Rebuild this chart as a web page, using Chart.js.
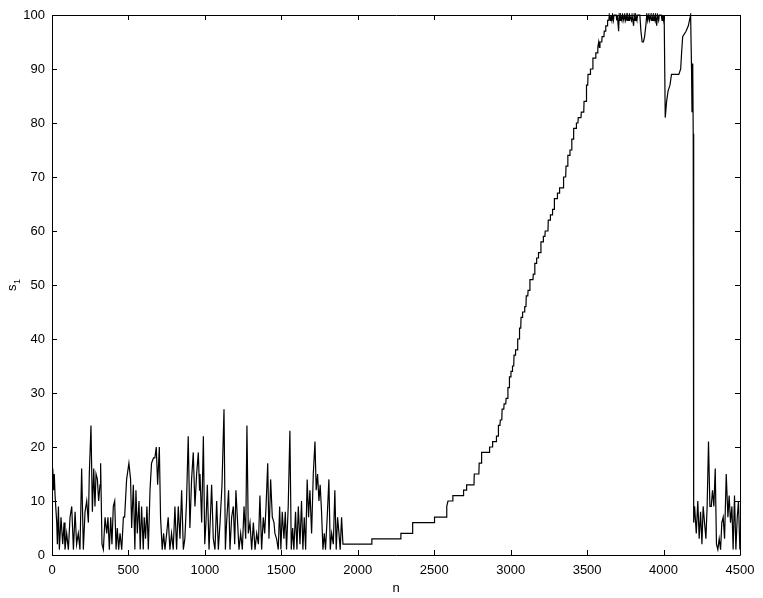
<!DOCTYPE html>
<html>
<head>
<meta charset="utf-8">
<script src="https://cdn.jsdelivr.net/npm/chart.js@4.4.1/dist/chart.umd.min.js"></script>
<style>
  body { margin: 0; background: #fff; }
  canvas { display: block; }
</style>
</head>
<body>
<canvas id="chart" width="763" height="598"></canvas>
<script>
// valeurs (n, s1)
const noise1N = [0,5,10,15,20,31,35,42,48,59,
  70,79,85,96,107,118,129,140,151,161,
  172,183,194,205,216,227,238,244,255,264,
  273,281,288,297,305,314,318,327,336,347,
  358,366,375,384,392,401,410,419,427,436,
  445,456,467,475];
const noise1S = [14,16,12,15,11,6,2,9,1,7,
  2,6,1,4,1,7,9,1,8,2,
  4,1,16,1,8,10,6,15,24,8,
  16,9,15,14,10,13,17,2,1,7,
  4,7,1,7,2,9,10,1,5,1,
  4,1,7,7];

const noise2N = [488,503,514,521,532,542,549,558,569,577,
  586,597,603,612,621,630,641,651,664,673,
  682,691,702,710,721,730,739,750,760,771,
  782,793,804,815,826,837,848,859,869,880,
  891,902,913,924,935,946,957,965];
const noise2S = [14,17,14,5,13,1,12,4,10,1,
  9,1,7,3,9,1,12,17,18,18,
  20,13,20,7,1,4,1,4,7,1,
  4,1,9,1,9,3,12,1,3,10,
  22,5,14,19,9,15,19,12];

const noise3N = [968,979,990,999,1007,1016,1027,1036,1044,1055,
  1066,1077,1088,1099,1112,1125,1134,1142,1155,1164,
  1175,1186,1195,1203,1214,1223,1234,1245,1256,1267,
  1275,1284,1295,1306,1317,1328,1339,1350,1360,1371,
  1382,1391,1400,1411,1419,1430,1441,1452];
const noise3S = [15,6,22,2,6,13,1,7,13,3,
  1,10,1,6,13,27,1,6,12,1,
  7,9,2,12,6,1,4,1,9,3,
  24,4,6,1,6,1,4,2,11,1,
  7,4,9,17,3,14,7,6];

const noise4N = [1458,1469,1480,1489,1497,1506,1517,1526,1534,1545,
  1556,1565,1574,1582,1593,1602,1611,1622,1632,1641,
  1650,1659,1669,1678,1687,1698,1709,1720,1728,1737,
  1746,1754,1763,1772,1781,1789,1800,1811,1820,1829,
  1840,1850,1859,1868,1877,1885,1894,1903];
const noise4S = [4,3,1,9,1,8,3,8,1,9,
  23,1,5,1,8,1,9,2,10,1,
  7,1,14,7,12,4,15,21,12,15,
  10,13,8,1,4,1,7,14,1,4,
  2,12,1,7,4,1,7,2];

// montée en escalier
const rampN = [1905,2090,2092,2280,2282,2356,2358,2360,2500,2502,
  2580,2582,2590,2620,2622,2690,2692,2710,2712,2760,
  2762,2792,2794,2808,2810,2860,2862,2880,2882,2905,
  2907,2918,2920,2930,2932,2942,2944,2955,2957,2968,
  2970,2980,2982,2990,2992,3000,3002,3010,3012,3020,
  3022,3030,3032,3044,3046,3056,3058,3066,3068,3076,
  3078,3090,3092,3100,3102,3112,3114,3124,3126,3146,
  3148,3156,3158,3168,3170,3180,3182,3196,3198,3212,
  3214,3224,3226,3244,3246,3258,3260,3272,3274,3284,
  3286,3304,3306,3318,3320,3344,3346,3360,3362,3372,
  3374,3386,3388,3398,3400,3410,3412,3428,3430,3440,
  3442,3460,3462,3478,3480,3494,3496,3504,3506,3520,
  3522,3536,3538,3555,3557,3568,3570,3576,3580,3584,
  3596,3598,3610,3612,3620,3622,3632,3634,3642];
const rampS = [2,2,3,3,4,4,5,6,6,7,
  7,9,10,10,11,11,12,12,13,13,
  15,15,17,17,19,19,20,20,21,21,
  22,22,24,24,25,25,27,27,28,28,
  29,29,31,31,33,33,34,34,35,35,
  37,37,38,38,40,40,42,42,44,44,
  45,45,46,46,48,48,49,49,51,51,
  52,52,54,54,55,55,56,56,58,58,
  59,59,60,60,62,62,63,63,64,64,
  66,66,67,67,68,68,70,70,72,72,
  74,74,75,75,77,77,79,79,80,80,
  81,81,82,82,84,84,87,87,89,89,
  90,90,92,92,93,93,94,95,94,95,
  95,96,96,97,97,98,98,99,99];

// plateau vers 100
const topN = [3645,3652,3656,3662,3666,3672,3676,3690,3694,3698,
  3706,3710,3716,3720,3728,3732,3740,3744,3752,3756,
  3762,3766,3774,3778,3790,3794,3804,3808,3814,3818,
  3826,3830,3845,3852,3860,3868,3876,3884,3890,3896,
  3900,3908,3912,3920,3924,3932,3936,3944,3948,3955,
  3960,3968,3972,3985,3990,3994,4000,4004,4008,4011,
  4020,4030,4042,4052,4064,4085,4100,4112,4118,4125,
  4147,4162,4177];
const topS = [100,99,100,99,100,99,100,100,99,100,
  97,100,99,100,99,100,99,100,99,100,
  99,100,99,100,99,100,98,100,99,100,
  99,100,100,97,95,95,96,98,100,99,
  100,99,100,99,100,99,100,99,100,98,
  100,99,100,100,99,100,99,100,100,81,
  84,86,87,89,89,89,89,90,93,96,
  97,98,100];

// chute et fin
const tailN = [4183,4186,4188,4190,4192,4194,4196,4198,4203,4214,
  4224,4233,4242,4251,4259,4268,4277,4285,4294,4303,
  4312,4320,4329,4338,4346,4355,4364,4373,4381,4390,
  4399,4410,4421,4429,4438,4447,4455,4464,4473,4482,
  4490,4499];
const tailS = [90,82,91,83,90,78,15,6,9,4,
  10,3,8,2,9,6,3,9,21,9,
  9,12,9,16,2,1,3,1,6,7,
  3,15,7,11,6,9,1,11,1,7,
  10,1];

const xTicks = [0,500,1000,1500,2000,2500,3000,3500,4000,4500];
const yTicks = [0,10,20,30,40,50,60,70,80,90,100];

const FONT = 'Liberation Sans, Arial, Helvetica, sans-serif';

function toPoints(ns, ss) {
  return ns.map((n, i) => ({ x: n, y: ss[i] }));
}

const points = [].concat(
  toPoints(noise1N, noise1S),
  toPoints(noise2N, noise2S),
  toPoints(noise3N, noise3S),
  toPoints(noise4N, noise4S),
  toPoints(rampN, rampS),
  toPoints(topN, topS),
  toPoints(tailN, tailS)
);

// cadre + graduations vers l'intérieur, et titres
const framePlugin = {
  id: 'frame',
  afterDraw(chart) {
    const c = chart.ctx;
    const a = chart.chartArea;
    const xs = chart.scales.x, ys = chart.scales.y;
    const L = 5;
    c.save();
    c.strokeStyle = '#000';
    c.lineWidth = 1;
    c.beginPath();
    c.rect(Math.round(a.left) + 0.5, Math.round(a.top) + 0.5,
      Math.round(a.right - a.left), Math.round(a.bottom - a.top));
    xTicks.forEach(v => {
      const px = Math.round(xs.getPixelForValue(v)) + 0.5;
      c.moveTo(px, a.bottom); c.lineTo(px, a.bottom - L);
      c.moveTo(px, a.top); c.lineTo(px, a.top + L);
    });
    yTicks.forEach(v => {
      const py = Math.round(ys.getPixelForValue(v)) + 0.5;
      c.moveTo(a.left, py); c.lineTo(a.left + L, py);
      c.moveTo(a.right, py); c.lineTo(a.right - L, py);
    });
    c.stroke();

    c.fillStyle = '#000';
    c.font = '13px ' + FONT;
    c.textAlign = 'center';
    c.textBaseline = 'middle';
    c.fillText('n', (a.left + a.right) / 2, 588);

    c.translate(12, (a.top + a.bottom) / 2);
    c.rotate(-Math.PI / 2);
    c.textAlign = 'left';
    c.textBaseline = 'alphabetic';
    c.fillText('s', -6, 4);
    c.font = '9px ' + FONT;
    c.fillText('1', 1, 8);
    c.restore();
  }
};

function renderChart() {
  const ctx = document.getElementById('chart').getContext('2d');
  new Chart(ctx, {
    type: 'line',
    data: {
      datasets: [{
        data: points,
        borderColor: '#000',
        borderWidth: 1.2,
        pointRadius: 0,
        tension: 0,
        fill: false,
        clip: 2
      }]
    },
    options: {
      responsive: false,
      animation: false,
      layout: { padding: { top: 15, right: 23, left: 0, bottom: 0 } },
      scales: {
        x: {
          type: 'linear',
          min: 0,
          max: 4500,
          afterBuildTicks: s => { s.ticks = xTicks.map(v => ({ value: v })); },
          afterFit: s => { s.height = 43; },
          ticks: { color: '#000', font: { family: FONT, size: 13 }, padding: 8, maxRotation: 0, autoSkip: false,
            callback: v => String(v) },
          grid: { display: false, drawTicks: false },
          border: { display: false }
        },
        y: {
          min: 0,
          max: 100,
          afterBuildTicks: s => { s.ticks = yTicks.map(v => ({ value: v })); },
          afterFit: s => { s.width = 52; },
          ticks: { color: '#000', font: { family: FONT, size: 13 }, padding: 7,
            callback: v => String(v) },
          grid: { display: false, drawTicks: false },
          border: { display: false }
        }
      },
      plugins: {
        legend: { display: false },
        tooltip: { enabled: false }
      }
    },
    plugins: [framePlugin]
  });
}

document.addEventListener('DOMContentLoaded', renderChart);
</script>
</body>
</html>
